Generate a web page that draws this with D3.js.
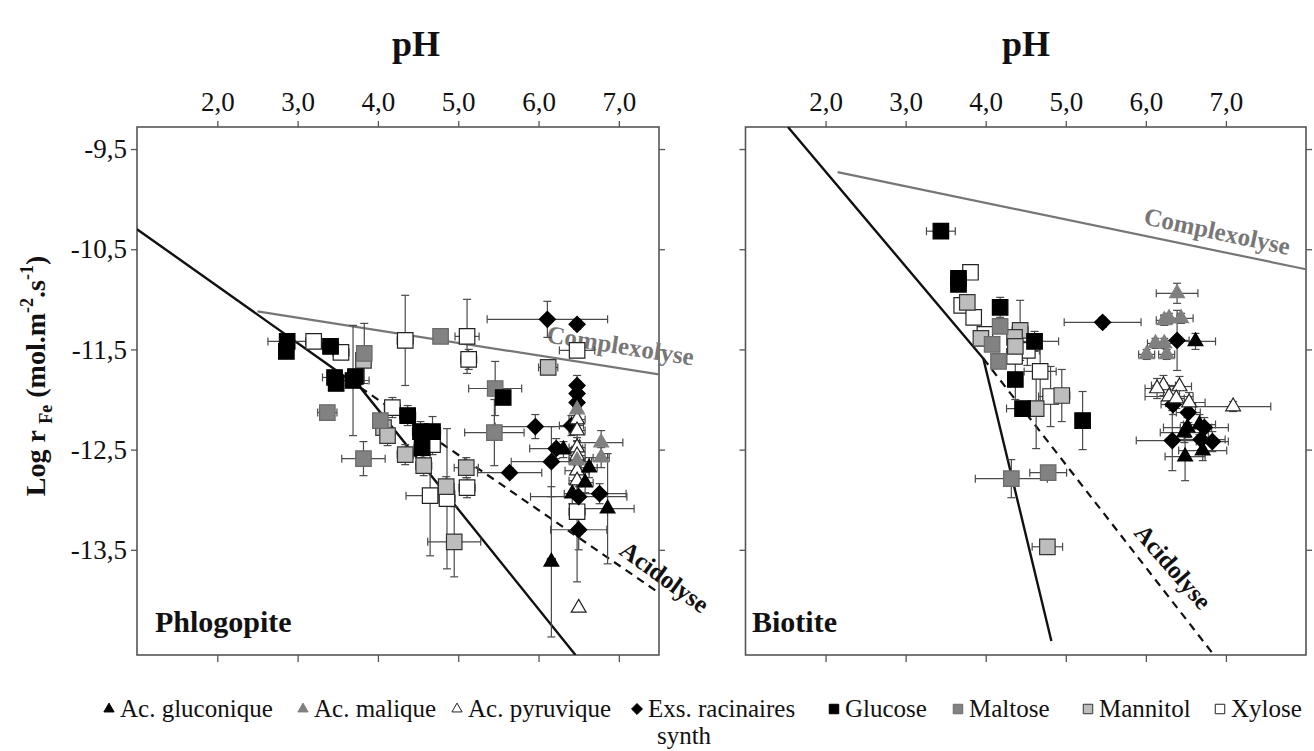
<!DOCTYPE html>
<html><head><meta charset="utf-8">
<script src="https://cdn.jsdelivr.net/npm/d3@7"></script>
<style>
html,body{margin:0;padding:0;background:#fff;}
svg{display:block;font-family:"Liberation Serif","Times New Roman",serif;}
</style></head>
<body>
<svg id="chart" width="1314" height="751"></svg>
<script>
// ---------------- DATA ----------------
// each point: [pH, log rFe, x error, y error]
const phlo_gluconique = [[6.31,-12.50,0.1,0.08],[6.63,-12.68,0.1,0.1],[6.58,-12.83,0.1,0.1],[6.42,-12.94,0.1,0.1],[6.86,-13.09,0.33,0.55],[6.16,-13.62,0.05,0.75]];
const phlo_malique = [[6.48,-12.10,0.05,0.1],[6.78,-12.43,0.27,0.12],[6.78,-12.58,0.1,0.1],[6.48,-12.61,0.1,0.1]];
const phlo_pyruvique = [[6.48,-12.20,0.1,0.1],[6.48,-12.31,0.1,0.1],[6.48,-12.48,0.1,0.1],[6.48,-12.56,0.1,0.1],[6.48,-12.71,0.15,0.1],[6.48,-12.81,0.1,0.1],[6.50,-14.08,0,0]];
const phlo_exs = [[6.11,-11.20,0.75,0.18],[6.48,-11.25,0.05,0.05],[6.48,-11.86,0.05,0.1],[6.48,-11.94,0.05,0.1],[6.48,-12.03,0.05,0.1],[5.96,-12.27,0.5,0.12],[6.41,-12.26,0.15,0.1],[6.22,-12.49,0.33,0.1],[6.16,-12.62,0.5,0.35],[5.64,-12.73,0.4,0.05],[6.50,-12.97,0.6,0.1],[6.76,-12.94,0.33,0.1],[6.50,-13.30,0.35,0.2]];
const phlo_glucose = [[2.87,-11.42,0.24,0.04],[2.86,-11.52,0.05,0.03],[3.41,-11.47,0.1,0.05],[3.46,-11.78,0.15,0.05],[3.48,-11.84,0.05,0.05],[3.69,-11.81,0.2,0.55],[3.72,-11.77,0.05,0.05],[4.37,-12.16,0.1,0.1],[4.53,-12.32,0.1,0.1],[4.68,-12.32,0.1,0.15],[4.55,-12.48,0.1,0.1],[5.56,-11.98,0.05,0.05]];
const phlo_xylose = [[3.20,-11.42,0.1,0.05],[3.54,-11.53,0.1,0.05],[4.18,-12.08,0.1,0.1],[4.34,-11.41,0.1,0.45],[4.68,-12.45,0.1,0.1],[5.11,-11.37,0.15,0.37],[5.13,-11.60,0.1,0.1],[4.65,-12.96,0.3,0.6],[4.86,-12.99,0.1,0.7],[5.11,-12.88,0.1,0.1],[6.48,-11.51,0.22,0.05],[6.48,-13.12,0.1,0.7]];
const phlo_maltose = [[3.37,-12.13,0.12,0.04],[3.83,-11.54,0.05,0.3],[3.82,-12.59,0.27,0.17],[4.78,-11.37,0.05,0.05],[5.46,-11.89,0.33,0.27],[5.45,-12.33,0.37,0.33],[4.03,-12.21,0.05,0.05]];
const phlo_mannitol = [[3.82,-11.61,0.05,0.05],[4.07,-12.28,0.05,0.1],[4.12,-12.36,0.05,0.1],[4.34,-12.55,0.1,0.1],[4.57,-12.66,0.1,0.1],[4.85,-12.87,0.1,0.1],[5.10,-12.68,0.15,0.1],[4.95,-13.42,0.33,0.35],[6.12,-11.68,0.12,0.03]];

const bio_gluconique = [[6.62,-11.42,0.25,0.08],[6.52,-12.28,0.3,0.1],[6.48,-12.33,0.3,0.1],[6.67,-12.25,0.2,0.1],[6.71,-12.51,0.3,0.1],[6.49,-12.57,0.25,0.24]];
const bio_malique = [[6.39,-10.94,0.26,0.1],[6.23,-11.21,0.1,0.05],[6.29,-11.19,0.1,0.05],[6.44,-11.19,0.15,0.05],[6.01,-11.55,0.1,0.05],[6.12,-11.44,0.1,0.05],[6.23,-11.44,0.15,0.05],[6.26,-11.55,0.1,0.05]];
const bio_pyruvique = [[6.22,-11.86,0.15,0.1],[6.14,-11.89,0.15,0.1],[6.42,-11.87,0.15,0.1],[6.29,-11.97,0.3,0.1],[6.38,-11.99,0.1,0.1],[6.54,-12.03,0.2,0.1],[7.09,-12.07,0.47,0.05]];
const bio_exs = [[5.46,-11.23,0.48,0.05],[6.39,-11.41,0.15,0.3],[6.34,-12.05,0.15,0.1],[6.53,-12.13,0.15,0.1],[6.73,-12.28,0.3,0.1],[6.33,-12.41,0.45,0.3],[6.69,-12.40,0.3,0.1],[6.83,-12.42,0.2,0.1]];
const bio_glucose = [[3.44,-10.32,0.18,0.03],[3.66,-10.79,0.05,0.03],[3.66,-10.85,0.05,0.03],[4.18,-11.08,0.05,0.1],[4.61,-11.42,0.3,0.1],[4.37,-11.80,0.05,0.2],[4.46,-12.09,0.2,0.05],[5.21,-12.21,0.05,0.29]];
const bio_xylose = [[3.81,-10.73,0.05,0.03],[3.70,-11.06,0.05,0.05],[3.85,-11.18,0.05,0.05],[3.99,-11.35,0.05,0.05],[4.52,-11.51,0.15,0.15],[4.36,-11.57,0.05,0.05],[4.68,-11.72,0.2,0.3],[4.81,-11.97,0.15,0.3]];
const bio_maltose = [[4.18,-11.27,0.05,0.05],[4.08,-11.45,0.05,0.05],[4.16,-11.62,0.05,0.05],[4.32,-12.79,0.45,0.19],[4.78,-12.73,0.23,0.05]];
const bio_mannitol = [[3.77,-11.03,0.05,0.05],[3.94,-11.39,0.05,0.05],[4.43,-11.31,0.1,0.3],[4.36,-11.38,0.05,0.05],[4.37,-11.47,0.05,0.05],[4.95,-11.96,0.1,0.26],[4.63,-12.09,0.05,0.4],[4.77,-13.47,0.19,0.03]];

// model lines
const phlo_acid_solid = [[1.0,-10.30],[3.78,-11.88],[6.46,-14.55]];
const phlo_acid_dashed = [[3.78,-11.88],[7.5,-13.93]];
const phlo_complex = [[2.5,-11.12],[7.5,-11.75]];
const bio_acid_solid = [[1.53,-9.28],[3.97,-11.59],[4.82,-14.41]];
const bio_acid_dashed = [[3.97,-11.59],[6.85,-14.55]];
const bio_complex = [[2.15,-9.73],[8.0,-10.70]];

const xTicks = [2,3,4,5,6,7];
const yTicks = [-9.5,-10.5,-11.5,-12.5,-13.5];
const seriesLabels = ["Ac. gluconique","Ac. malique","Ac. pyruvique","Exs. racinaires","Glucose","Maltose","Mannitol","Xylose"];

// ---------------- STYLE ----------------
const diamondType = {draw(ctx,size){const r=Math.sqrt(size/2);ctx.moveTo(0,-r);ctx.lineTo(r,0);ctx.lineTo(0,r);ctx.lineTo(-r,0);ctx.closePath();}};
const styles = {
  gluconique:{shape:d3.symbolTriangle,size:95,fill:"#000",stroke:"#000"},
  malique:{shape:d3.symbolTriangle,size:95,fill:"#808080",stroke:"#808080"},
  pyruvique:{shape:d3.symbolTriangle,size:95,fill:"#fff",stroke:"#222"},
  exs:{shape:diamondType,size:130,fill:"#000",stroke:"#000"},
  glucose:{shape:d3.symbolSquare,size:240,fill:"#000",stroke:"#000"},
  maltose:{shape:d3.symbolSquare,size:240,fill:"#828282",stroke:"#6a6a6a"},
  mannitol:{shape:d3.symbolSquare,size:240,fill:"#bdbdbd",stroke:"#333"},
  xylose:{shape:d3.symbolSquare,size:240,fill:"#fff",stroke:"#222"}
};
const order = ["gluconique","malique","pyruvique","exs","glucose","maltose","mannitol","xylose"];

const svg = d3.select("#chart");
const y = d3.scaleLinear().domain([-14.55,-9.28]).range([655,127]);
const fmt = d => d3.format(".1f")(d).replace(".",",").replace("\u2212","-");

function panel(cfg){
  const x = d3.scaleLinear().domain(cfg.domain).range(cfg.range);
  const g = svg.append("g");
  const [x0,x1] = cfg.range;
  // axes
  const top = g.append("g").attr("transform","translate(0,127)")
    .call(d3.axisTop(x).tickValues(xTicks).tickFormat(fmt).tickSize(6).tickPadding(10));
  const bot = g.append("g").attr("transform","translate(0,655)")
    .call(d3.axisBottom(x).tickValues(xTicks).tickFormat("").tickSize(7));
  const lft = g.append("g").attr("transform",`translate(${x0},0)`)
    .call(d3.axisLeft(y).tickValues(yTicks).tickFormat(cfg.yLabels?fmt:"").tickSize(6).tickPadding(4));
  const rgt = g.append("g").attr("transform",`translate(${x1},0)`)
    .call(d3.axisRight(y).tickValues(yTicks).tickFormat("").tickSize(6));
  [top,bot,lft,rgt].forEach(a=>{
    a.attr("font-family","Liberation Serif").attr("font-size",27);
    a.select(".domain").remove();
    a.selectAll(".tick line").attr("stroke","#555").attr("stroke-width",1.3);
    a.selectAll("text").attr("fill","#111");
  });
  g.append("rect").attr("x",x0).attr("y",127).attr("width",x1-x0).attr("height",528)
    .attr("fill","none").attr("stroke","#555").attr("stroke-width",1.6);
  // title
  g.append("text").attr("x",cfg.titleX).attr("y",56).attr("text-anchor","middle")
    .attr("font-size",36).attr("font-weight","bold").attr("fill","#111").text("pH");
  // clip
  const cid = "clip"+cfg.name;
  g.append("clipPath").attr("id",cid).append("rect").attr("x",x0).attr("y",127).attr("width",x1-x0).attr("height",528);
  const plot = g.append("g").attr("clip-path",`url(#${cid})`);
  const line = d3.line().x(d=>x(d[0])).y(d=>y(d[1]));
  plot.append("path").attr("d",line(cfg.complex)).attr("fill","none").attr("stroke","#767676").attr("stroke-width",2.2);
  plot.append("path").attr("d",line(cfg.solid)).attr("fill","none").attr("stroke","#111").attr("stroke-width",2.4);
  plot.append("path").attr("d",line(cfg.dashed)).attr("fill","none").attr("stroke","#111").attr("stroke-width",2.2).attr("stroke-dasharray","8,6");
  // annotations
  const ann = (t,p,rot,col)=>g.append("text")
    .attr("transform",`translate(${x(p[0])},${y(p[1])}) rotate(${rot})`)
    .attr("text-anchor","middle").attr("dominant-baseline","central")
    .attr("font-size",25).attr("font-weight","bold").attr("fill",col).text(t);
  ann("Complexolyse",cfg.complexLabel,cfg.complexRot,"#777");
  // error bars
  const eg = g.append("g").attr("stroke","#4a4a4a").attr("stroke-width",1.2).attr("fill","none");
  const cap = 4;
  order.forEach(k=>{
    cfg.data[k].forEach(d=>{
      const px=x(d[0]), py=y(d[1]);
      if(d[2]>0){
        const a=x(d[0]-d[2]), b=x(d[0]+d[2]);
        eg.append("line").attr("x1",a).attr("x2",b).attr("y1",py).attr("y2",py);
        eg.append("line").attr("x1",a).attr("x2",a).attr("y1",py-cap).attr("y2",py+cap);
        eg.append("line").attr("x1",b).attr("x2",b).attr("y1",py-cap).attr("y2",py+cap);
      }
      if(d[3]>0){
        const a=y(d[1]+d[3]), b=y(d[1]-d[3]);
        eg.append("line").attr("x1",px).attr("x2",px).attr("y1",a).attr("y2",b);
        eg.append("line").attr("x1",px-cap).attr("x2",px+cap).attr("y1",a).attr("y2",a);
        eg.append("line").attr("x1",px-cap).attr("x2",px+cap).attr("y1",b).attr("y2",b);
      }
    });
  });
  // markers
  order.slice().reverse().forEach(k=>{
    const s = styles[k];
    g.append("g").selectAll("path").data(cfg.data[k]).join("path")
      .attr("transform",d=>`translate(${x(d[0])},${y(d[1])})`)
      .attr("d",d3.symbol(s.shape,s.size)())
      .attr("fill",s.fill).attr("stroke",s.stroke).attr("stroke-width",1.2);
  });
  ann("Acidolyse",cfg.acidLabel,cfg.acidRot,"#111");
  g.append("text").attr("x",cfg.nameX).attr("y",632).attr("font-size",30).attr("font-weight","bold")
    .attr("fill","#111").text(cfg.label);
}

panel({name:"phlo",label:"Phlogopite",nameX:155,domain:[1,7.5],range:[137,659],yLabels:true,titleX:416,
  solid:phlo_acid_solid,dashed:phlo_acid_dashed,complex:phlo_complex,
  complexLabel:[7.02,-11.46],complexRot:9,acidLabel:[7.57,-13.77],acidRot:36,
  data:{gluconique:phlo_gluconique,malique:phlo_malique,pyruvique:phlo_pyruvique,exs:phlo_exs,
        glucose:phlo_glucose,maltose:phlo_maltose,mannitol:phlo_mannitol,xylose:phlo_xylose}});
panel({name:"bio",label:"Biotite",nameX:752,domain:[1,8],range:[745.5,1306],yLabels:false,titleX:1026,
  solid:bio_acid_solid,dashed:bio_acid_dashed,complex:bio_complex,
  complexLabel:[6.89,-10.32],complexRot:12,acidLabel:[6.34,-13.67],acidRot:49,
  data:{gluconique:bio_gluconique,malique:bio_malique,pyruvique:bio_pyruvique,exs:bio_exs,
        glucose:bio_glucose,maltose:bio_maltose,mannitol:bio_mannitol,xylose:bio_xylose}});

// y title
const yt = svg.append("text").attr("transform","translate(45,376) rotate(-90)")
  .attr("text-anchor","middle").attr("font-size",28).attr("font-weight","bold").attr("fill","#111");
yt.append("tspan").text("Log r ");
yt.append("tspan").attr("font-size",18).attr("dy",7).text("Fe");
yt.append("tspan").attr("dy",-7).text(" (mol.m");
yt.append("tspan").attr("font-size",18).attr("dy",-12).text("-2");
yt.append("tspan").attr("dy",12).text(".s");
yt.append("tspan").attr("font-size",18).attr("dy",-12).text("-1");
yt.append("tspan").attr("dy",12).text(")");

// legend
const legendX = [109,303,457,637,834,958,1088,1220];
const lg = svg.append("g");
order.forEach((k,i)=>{
  const s = styles[k];
  const sz = s.shape===d3.symbolSquare?90:(s.shape===diamondType?60:45);
  lg.append("path").attr("transform",`translate(${legendX[i]},709)`)
    .attr("d",d3.symbol(s.shape,sz)()).attr("fill",s.fill).attr("stroke",s.stroke).attr("stroke-width",1);
  lg.append("text").attr("x",legendX[i]+11).attr("y",717).attr("font-size",25).attr("fill","#111").text(seriesLabels[i]);
});
lg.append("text").attr("x",684).attr("y",744).attr("text-anchor","middle").attr("font-size",25).attr("fill","#111").text("synth");
</script>
</body></html>
